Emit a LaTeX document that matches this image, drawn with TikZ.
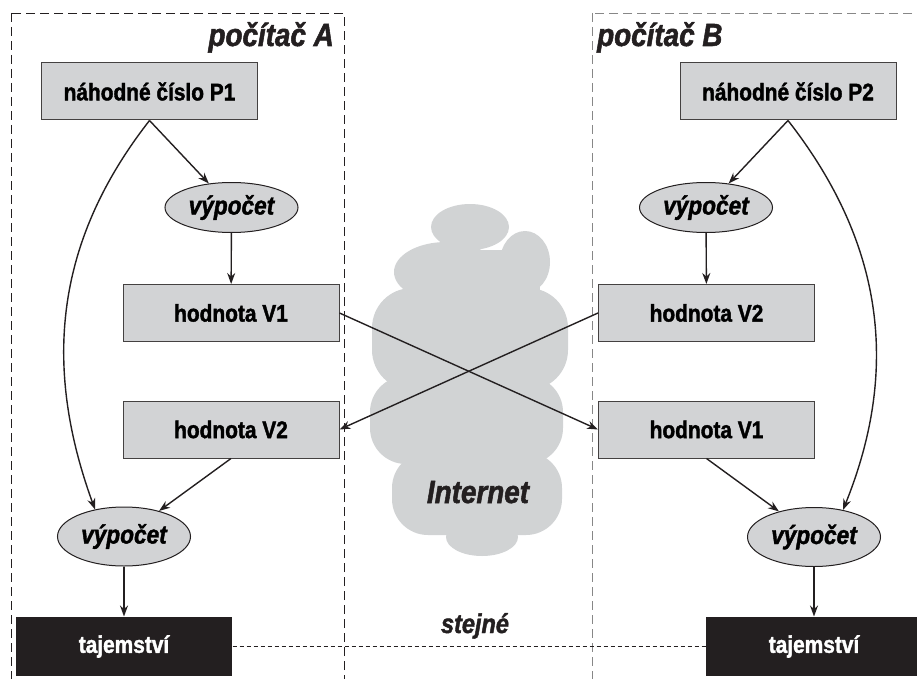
\documentclass[tikz,border=0pt]{standalone}
\usepackage{fontspec}
\setmainfont{Liberation Sans}[FakeStretch=0.87,
  BoldFeatures={FakeBold=1.6},BoldItalicFeatures={FakeBold=1.6}]
\usetikzlibrary{shapes.geometric,arrows.meta,positioning}
\definecolor{boxgray}{RGB}{210,211,213}
\definecolor{cloudgray}{RGB}{209,211,212}
\definecolor{inkblack}{RGB}{35,31,32}
\definecolor{framegray}{RGB}{135,135,135}

\begin{document}
\begin{tikzpicture}[x=1pt,y=-1pt,
  box/.style={draw=inkblack!85,fill=boxgray,line width=1pt,
              minimum width=216pt,minimum height=57pt,inner sep=0pt,
              font=\fontsize{24}{28}\selectfont\bfseries},
  secret/.style={box,draw=none,fill=inkblack,text=white,
                 minimum height=59pt},
  comp/.style={draw=inkblack,fill=boxgray,ellipse,line width=1pt,
               minimum width=133pt,minimum height=50pt,inner sep=0pt,
               font=\fontsize{26}{30}\selectfont\bfseries\itshape},
  heading/.style={inner sep=0pt,text=inkblack,
                  font=\fontsize{32}{36}\selectfont\bfseries\itshape},
  compA/.style={draw=inkblack,line width=0.8pt,dash pattern=on 9pt off 5pt},
  compB/.style={compA,draw=framegray},
  arr/.style={-{Stealth[length=11pt,width=8pt]},line width=1.4pt,draw=inkblack},
  same/.style={draw=inkblack,line width=1.3pt,dash pattern=on 4pt off 3pt}
]
\useasboundingbox (0,0) rectangle (917,679);

% the two computers
\draw[compA] (11,13) rectangle (344,700);
\draw[compB] (592,13) rectangle (940,700);
\node[heading,anchor=base east] (titleA) at (334,46) {počítač A};
\node[heading,anchor=base west] (titleB) at (597,46) {počítač B};

% cloud
\fill[cloudgray] (410,250) rectangle (540,520);
\fill[cloudgray] (470,227) ellipse [x radius=39pt,y radius=23pt];
\fill[cloudgray] (446,272) ellipse [x radius=52pt,y radius=30pt];
\fill[cloudgray] (525,262) ellipse [x radius=25pt,y radius=31pt];
\fill[cloudgray,rounded corners=40pt] (372,288) rectangle (568,390);
\fill[cloudgray,rounded corners=36pt] (370,376) rectangle (563,464);
\fill[cloudgray,rounded corners=36pt] (392,452) rectangle (562,535);
\fill[cloudgray] (482,537) ellipse [x radius=36pt,y radius=19pt];
\node[heading,anchor=base,font=\fontsize{32}{36}\selectfont\bfseries\itshape]
  (net) at (478,503) {Internet};

% computer A
\node[box] (rndA) at (149.5,91.5) {náhodné číslo P1};
\node[comp] (compA1) at (231.5,207.5) {výpočet};
\node[box] (valA1) at (231,313) {hodnota V1};
\node[box] (valA2) at (231,429.5) {hodnota V2};
\node[comp,minimum height=59pt] (compA2) at (124,536.5) {výpočet};
\node[secret] (secA) at (124,646.5) {tajemství};

% computer B
\node[box] (rndB) at (788,91.5) {náhodné číslo P2};
\node[comp] (compB1) at (706,207.5) {výpočet};
\node[box] (valB2) at (706.5,313) {hodnota V2};
\node[box] (valB1) at (706.5,429.5) {hodnota V1};
\node[comp,minimum height=59pt] (compB2) at (814,537) {výpočet};
\node[secret] (secB) at (814,646.5) {tajemství};

\draw[arr] (rndA.south) -- (compA1);
\draw[arr] (compA1) -- (valA1);
\draw[arr] (rndA.south) to[out=232,in=110] (compA2.137);
\draw[arr] (valA2.south) -- (compA2);
\draw[arr] (compA2) -- (secA);

\draw[arr] (rndB.south) -- (compB1);
\draw[arr] (compB1) -- (valB2);
\draw[arr] (rndB.south) to[out=-52,in=68] (compB2.43);
\draw[arr] (valB1.south) -- (compB2);
\draw[arr] (compB2) -- (secB);

% exchange over the network
\draw[arr] (valA1.east) -- (valB1.west);
\draw[arr] (valB2.west) -- (valA2.east);

\draw[same] (secA) -- (secB);
\node[heading,anchor=base,font=\fontsize{27}{30}\selectfont\bfseries\itshape]
  (samelbl) at (475,633) {stejné};
\end{tikzpicture}
\end{document}
